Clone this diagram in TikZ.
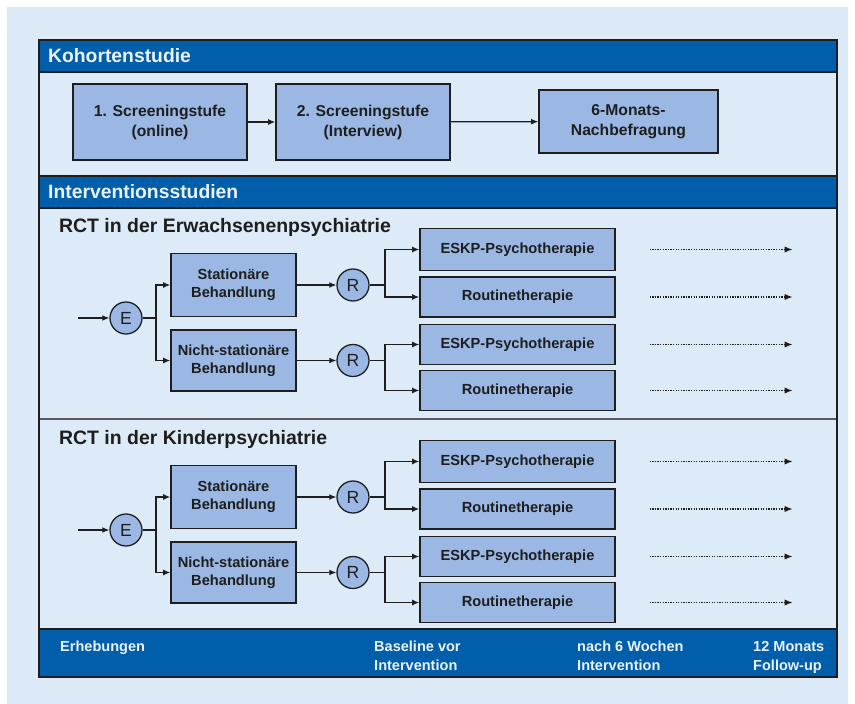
\documentclass[tikz,border=0pt]{standalone}
\usepackage{fontspec}
\setmainfont{Liberation Sans}
\usetikzlibrary{arrows.meta,calc}

\definecolor{headblue}{RGB}{0,94,170}
\definecolor{panelblue}{RGB}{221,234,247}
\definecolor{bgblue}{RGB}{220,233,246}
\definecolor{boxblue}{RGB}{154,184,227}
\definecolor{inkgray}{RGB}{30,30,30}
\definecolor{headtext}{RGB}{235,242,250}

\newcommand{\pxlen}{0.03cm}

\tikzset{
    blockbox/.style={draw=inkgray,line width=1.3pt,fill=boxblue,align=center,text=inkgray,
        font=\fontsize{12.5}{15}\selectfont\bfseries,inner sep=0pt},
    randcircle/.style={circle,draw=inkgray,line width=1.1pt,fill=boxblue,minimum size=32*\pxlen,inner sep=0pt,
        font=\fontsize{15}{17}\selectfont,text=inkgray},
    headtitle/.style={anchor=west,text=headtext,font=\fontsize{16.5}{19}\selectfont\bfseries},
    foottext/.style={anchor=north west,align=left,text=headtext,font=\fontsize{12.4}{16.2}\selectfont\bfseries,inner sep=0pt},
    flow/.style={-{Latex[length=6pt,width=5pt]},line width=1pt,draw=inkgray},
    followup/.style={-{Latex[length=7pt,width=5.5pt]},line width=1.5pt,dash pattern=on 1.1pt off 1.1pt,draw=inkgray}
}

\begin{document}
\begin{tikzpicture}[x=0.03cm,y=-0.03cm]
    \useasboundingbox (0,0) rectangle (855,704);
    \fill[bgblue](7,7) rectangle (848,704);
    \fill[panelblue](39,40) rectangle (837,677);

    % Kopfzeilen
    \fill[headblue](39,40) rectangle (837,72);
    \fill[headblue](39,176) rectangle (837,208);
    \fill[headblue](39,629) rectangle (837,677);
    \node[headtitle] (kohorte) at (44,56) {Kohortenstudie};
    \node[headtitle] (intervention) at (44,192) {Interventionsstudien};

    % Kohortenstudie
    \node[blockbox,minimum width=174*\pxlen,minimum height=76*\pxlen,font=\fontsize{13.4}{17}\selectfont\bfseries] (screen1) at (160,122) {1. Screeningstufe\\(online)};
    \node[blockbox,minimum width=174*\pxlen,minimum height=76*\pxlen,font=\fontsize{13.4}{17}\selectfont\bfseries] (screen2) at (363,122) {2. Screeningstufe\\(Interview)};
    \node[blockbox,minimum width=179*\pxlen,minimum height=63*\pxlen,font=\fontsize{13.4}{17}\selectfont\bfseries] (nachbef) at (628.5,121.5) {6-Monats-\\Nachbefragung};
    \draw[flow](screen1)--(screen2);
    \draw[flow](screen2)--(nachbef);

    % RCTs
    \foreach \s/\dy/\rcttitle in {erw/0/Erwachsenenpsychiatrie,kind/212/Kinderpsychiatrie}{
        \begin{scope}[shift={(0,\dy)}]
            \node[anchor=west,text=inkgray,font=\fontsize{16.6}{19}\selectfont\bfseries] (title\s) at (55,227) {RCT in der \rcttitle};
            \coordinate (in\s) at (78,318);
            \node[randcircle] (E\s) at (126,318) {E};
            \coordinate (fork\s) at (156,318);
            \node[blockbox,minimum width=125*\pxlen,minimum height=63*\pxlen] (stat\s) at (233.5,285) {Stationäre\\Behandlung};
            \node[blockbox,minimum width=125*\pxlen,minimum height=61*\pxlen] (amb\s) at (233.5,360.5) {Nicht-stationäre\\Behandlung};
            \node[randcircle] (Rs\s) at (353,285) {R};
            \node[randcircle] (Ra\s) at (353,360.5) {R};
            \coordinate (forks\s) at (385,285);
            \coordinate (forka\s) at (385,360.5);
            \node[blockbox,minimum width=195*\pxlen,minimum height=42*\pxlen] (eskps\s) at (517.5,249.5) {ESKP-Psychotherapie};
            \node[blockbox,minimum width=195*\pxlen,minimum height=40*\pxlen] (routs\s) at (517.5,297) {Routinetherapie};
            \node[blockbox,minimum width=195*\pxlen,minimum height=40*\pxlen] (eskpa\s) at (517.5,344.5) {ESKP-Psychotherapie};
            \node[blockbox,minimum width=195*\pxlen,minimum height=40*\pxlen] (routa\s) at (517.5,390.5) {Routinetherapie};

            \draw[flow](in\s)--(E\s);
            \draw[line width=1pt,draw=inkgray](E\s)--(fork\s);
            \draw[flow](fork\s)|-(stat\s);
            \draw[flow](fork\s)|-(amb\s);
            \draw[flow](stat\s)--(Rs\s);
            \draw[flow](amb\s)--(Ra\s);
            \draw[line width=1pt,draw=inkgray](Rs\s)--(forks\s);
            \draw[line width=1pt,draw=inkgray](Ra\s)--(forka\s);
            \draw[flow](forks\s)|-(eskps\s);
            \draw[flow](forks\s)|-(routs\s);
            \draw[flow](forka\s)|-(eskpa\s);
            \draw[flow](forka\s)|-(routa\s);

            \foreach \b in {eskps,routs,eskpa,routa}{
                \coordinate (\b\s from) at ($(\b\s.east)+(34,0)$);
                \coordinate (\b\s to) at ($(\b\s.east)+(177,0)$);
                \draw[followup](\b\s from)--(\b\s to);
            }
        \end{scope}
    }

    % Erhebungen
    \node[foottext] (erhebung) at (60,641) {Erhebungen};
    \node[foottext] (baseline) at (374,641) {Baseline vor\\Intervention};
    \node[foottext] (woche) at (577,641) {nach 6 Wochen\\Intervention};
    \node[foottext] (followup) at (753,641) {12 Monats\\Follow-up};

    % Trennlinien
    \draw[line width=1.2pt,draw=inkgray](39,72)--(837,72);
    \draw[line width=1.2pt,draw=inkgray](39,176)--(837,176);
    \draw[line width=1.2pt,draw=inkgray](39,208)--(837,208);
    \draw[line width=1pt,draw=black!65](39,419)--(837,419);
    \draw[line width=1.2pt,draw=inkgray](39,629)--(837,629);
    \draw[line width=1.3pt,draw=inkgray](39,40) rectangle (837,677);
\end{tikzpicture}
\end{document}
